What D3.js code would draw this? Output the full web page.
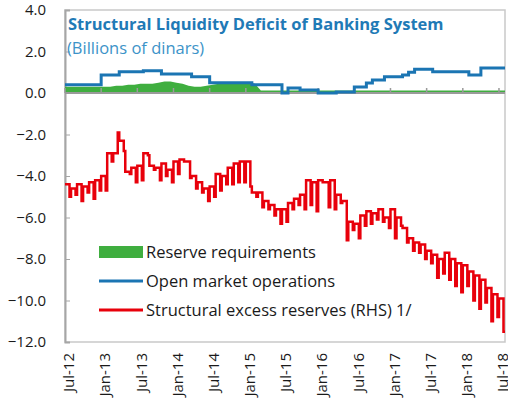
<!DOCTYPE html>
<html>
<head>
<meta charset="utf-8">
<script src="https://cdn.jsdelivr.net/npm/d3@7"></script>
<style>
    body { margin: 0; background: #fff; }
    text { font-family: "Open Sans", "Noto Sans", sans-serif; }
</style>
</head>
<body>
<div id="main"></div>
<script>
// month index 0 = Jul-12, one value per month
var tickLabels = ["Jul-12", "Jan-13", "Jul-13", "Jan-14", "Jul-14", "Jan-15", "Jul-15",
    "Jan-16", "Jul-16", "Jan-17", "Jul-17", "Jan-18", "Jul-18"];
var yTicks = [4, 2, 0, -2, -4, -6, -8, -10, -12];

var reserveReq = [
    0.3, 0.3, 0.3, 0.3, 0.3, 0.3, 0.3, 0.3, 0.35, 0.35,
    0.4, 0.4, 0.45, 0.45, 0.45, 0.5, 0.55, 0.55, 0.5, 0.45,
    0.35, 0.3, 0.3, 0.35, 0.4, 0.45, 0.5, 0.5, 0.5, 0.5,
    0.5, 0.45, 0.12, 0.12, 0.12, 0.12, 0.12, 0.12, 0.12, 0.12,
    0.12, 0.12, 0.12, 0.12, 0.12, 0.12, 0.12, 0.12, 0.12, 0.12,
    0.12, 0.12, 0.12, 0.12, 0.12, 0.12, 0.12, 0.12, 0.12, 0.12,
    0.12, 0.12, 0.12, 0.12, 0.12, 0.12, 0.12, 0.12, 0.12, 0.12,
    0.12, 0.12, 0.12
];

var openMarket = [
    0.4, 0.4, 0.4, 0.4, 0.4, 0.4, 0.87, 0.87, 0.87, 1.02,
    1.02, 1.02, 1.02, 1.07, 1.07, 1.07, 0.92, 0.92, 0.92, 0.92,
    0.92, 0.78, 0.78, 0.78, 0.5, 0.5, 0.5, 0.5, 0.5, 0.5,
    0.5, 0.4, 0.4, 0.4, 0.4, 0.4, 0.0, 0.24, 0.24, 0.15,
    0.15, 0.15, 0.0, 0.0, 0.0, 0.05, 0.05, 0.05, 0.29, 0.29,
    0.48, 0.63, 0.63, 0.78, 0.78, 0.78, 0.87, 1.0, 1.15, 1.15,
    1.15, 1.02, 1.02, 1.02, 1.02, 1.02, 1.02, 0.87, 0.87, 1.2,
    1.2, 1.2, 1.2
];

// two readings per month: level for most of the month, then the month-end low
var excessReserves = [
    [-4.4, -5.0], [-4.6, -4.9], [-4.4, -5.2], [-4.5, -4.8], [-4.3, -5.1], [-4.2, -4.7],
    [-4.0, -4.7], [-2.9, -3.3], [-2.9, -1.9], [-2.3, -2.8], [-3.8, -3.9], [-3.6, -4.3],
    [-3.5, -4.2], [-2.9, -3.0], [-3.5, -3.7], [-3.6, -4.2], [-3.4, -4.0], [-3.7, -4.3],
    [-3.3, -3.9], [-3.2, -3.3], [-3.3, -4.1], [-4.0, -4.6], [-4.3, -4.8], [-4.6, -5.2],
    [-4.5, -5.0], [-3.9, -4.7], [-4.0, -4.4], [-3.6, -4.4], [-3.4, -4.3], [-3.3, -4.3],
    [-3.3, -4.5], [-4.8, -5.0], [-4.8, -5.5], [-5.2, -5.6], [-5.4, -5.9], [-5.6, -6.3],
    [-5.6, -6.2], [-5.3, -5.6], [-5.1, -5.4], [-4.9, -5.6], [-4.2, -5.4], [-4.3, -5.7],
    [-4.2, -4.3], [-4.3, -5.5], [-4.2, -5.6], [-4.9, -5.3], [-5.2, -7.1], [-6.2, -6.6],
    [-6.3, -7.0], [-5.9, -6.4], [-5.7, -6.3], [-5.8, -6.1], [-5.6, -6.2], [-6.0, -6.5],
    [-5.6, -7.0], [-6.0, -6.4], [-6.5, -7.2], [-7.0, -7.6], [-7.2, -7.7], [-7.3, -8.0],
    [-7.6, -8.2], [-7.8, -8.9], [-8.0, -8.7], [-7.7, -9.0], [-8.0, -9.3], [-8.2, -9.6],
    [-8.3, -9.3], [-8.6, -10.0], [-8.8, -10.4], [-9.0, -10.1], [-9.4, -11.0], [-9.7, -10.8],
    [-9.9, -11.5]
];

var legendItems = ["Reserve requirements", "Open market operations", "Structural excess reserves (RHS) 1/"];

var ctx = {
    w: 508,
    h: 404,
    left: 65,
    right: 505,
    top: 10,
    bottom: 342,
    green: "#3fae3f",
    blue: "#1b75b3",
    red: "#e8000b",
};

var createViz = function () {
    var svg = d3.select("#main").append("svg")
        .attr("width", ctx.w)
        .attr("height", ctx.h);

    var x = d3.scaleLinear().domain([0, excessReserves.length]).range([ctx.left, ctx.right]);
    var y = d3.scaleLinear().domain([-12, 4]).range([ctx.bottom, ctx.top]);

    // plot frame
    svg.append("rect")
        .attr("x", ctx.left).attr("y", ctx.top)
        .attr("width", ctx.right - ctx.left).attr("height", ctx.bottom - ctx.top)
        .attr("fill", "none").attr("stroke", "#c9c9c9").attr("stroke-width", 1.5);

    // y axis
    var yAxis = d3.axisRight(y).tickValues(yTicks).tickSize(5).tickFormat("");
    var ga = svg.append("g").attr("transform", "translate(" + ctx.left + ",0)").call(yAxis);
    ga.select(".domain").attr("stroke", "#a6a6a6").attr("stroke-width", 2);
    ga.selectAll(".tick line").attr("stroke", "#a6a6a6");

    svg.append("g").selectAll("text")
        .data(yTicks).enter().append("text")
        .attr("x", 46).attr("y", function (d) { return y(d); })
        .attr("dy", "0.35em")
        .attr("text-anchor", "end")
        .style("font-size", "15px").attr("fill", "#1a1a1a")
        .text(function (d) { return d3.format(".1f")(d); });

    // reserve requirements area
    var n = reserveReq.length;
    svg.append("path")
        .datum(reserveReq)
        .attr("d", d3.area()
            .x(function (d, i) { return x(i === 0 ? 0 : (i === n - 1 ? n : i + 0.5)); })
            .y0(y(0))
            .y1(function (d) { return y(d); }))
        .attr("fill", ctx.green);

    // zero axis with ticks every 6 months
    svg.append("line")
        .attr("x1", ctx.left).attr("x2", ctx.right)
        .attr("y1", y(0)).attr("y2", y(0))
        .attr("stroke", "#9a9a9a").attr("stroke-width", 2);
    svg.append("g").selectAll("line")
        .data(tickLabels).enter().append("line")
        .attr("x1", function (d, i) { return x(i * 6); })
        .attr("x2", function (d, i) { return x(i * 6); })
        .attr("y1", y(0)).attr("y2", y(0) - 5)
        .attr("stroke", "#9a9a9a").attr("stroke-width", 1.5);

    // open market operations
    var blueData = openMarket.map(function (v, i) { return [i, v]; });
    blueData.push([openMarket.length, openMarket[openMarket.length - 1]]);
    svg.append("path")
        .datum(blueData)
        .attr("d", d3.line()
            .x(function (d) { return x(d[0]); })
            .y(function (d) { return y(d[1]); })
            .curve(d3.curveStepAfter))
        .attr("fill", "none").attr("stroke", ctx.blue).attr("stroke-width", 3);

    // structural excess reserves
    var redData = [];
    excessReserves.forEach(function (p, i) {
        redData.push([i, p[0]]);
        redData.push([i + 0.75, p[1]]);
    });
    redData.push([excessReserves.length, excessReserves[excessReserves.length - 1][1]]);
    svg.append("path")
        .datum(redData)
        .attr("d", d3.line()
            .x(function (d) { return x(d[0]); })
            .y(function (d) { return y(d[1]); })
            .curve(d3.curveStepAfter))
        .attr("fill", "none").attr("stroke", ctx.red).attr("stroke-width", 2.5);

    // x labels
    svg.append("g").selectAll("text")
        .data(tickLabels).enter().append("text")
        .attr("transform", function (d, i) {
            return "translate(" + (x(i * 6) + 4) + ",353) rotate(-90)";
        })
        .attr("dy", "0.35em")
        .attr("text-anchor", "end")
        .style("font-size", "15px").attr("fill", "#1a1a1a")
        .text(function (d) { return d; });

    // titles
    svg.append("text")
        .attr("x", 68).attr("y", 30)
        .style("font-size", "16.5px").style("font-weight", "bold")
        .attr("fill", "#1f7ab6")
        .text("Structural Liquidity Deficit of Banking System");
    svg.append("text")
        .attr("x", 67).attr("y", 54)
        .style("font-size", "16.5px")
        .attr("fill", "#3c93c8")
        .text("(Billions of dinars)");

    // legend
    var lg = svg.append("g");
    legendItems.forEach(function (name, i) {
        var ly = 252 + i * 29;
        if (i === 0) {
            lg.append("rect").attr("x", 99).attr("y", ly - 6).attr("width", 44).attr("height", 12)
                .attr("fill", ctx.green);
        } else {
            lg.append("line").attr("x1", 99).attr("x2", 143).attr("y1", ly).attr("y2", ly)
                .attr("stroke", i === 1 ? ctx.blue : ctx.red).attr("stroke-width", 3);
        }
        lg.append("text").attr("x", 146).attr("y", ly).attr("dy", "0.35em")
            .style("font-size", "16.5px").attr("fill", "#1a1a1a")
            .text(name);
    });
};

createViz();
</script>
</body>
</html>
